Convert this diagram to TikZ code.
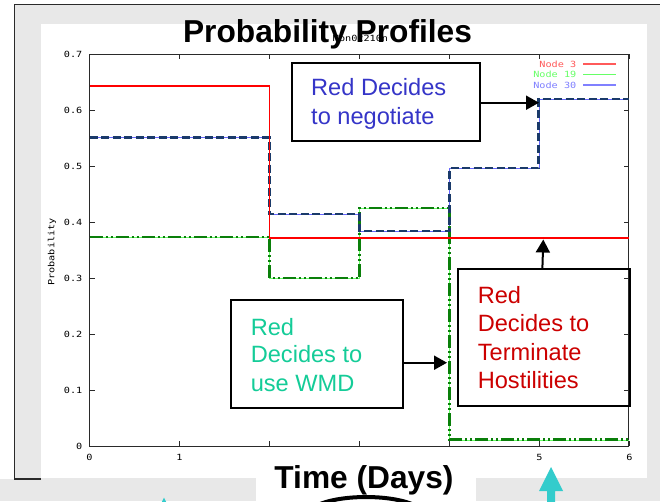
\documentclass[tikz,border=0pt]{standalone}
\usepackage{fontspec}
\setmainfont{Liberation Sans}
\newfontfamily\gpfont[FakeStretch=1.2]{DejaVu Sans Mono}
\usetikzlibrary{arrows.meta}
\definecolor{bggray}{HTML}{E8E8E8}
\definecolor{axisc}{HTML}{2A2A2A}
\definecolor{negblue}{HTML}{3535C8}
\definecolor{wmdteal}{HTML}{14CC98}
\definecolor{termred}{HTML}{CC0000}
\definecolor{lgreen}{HTML}{66FF66}
\definecolor{lblue}{HTML}{6666FF}
\definecolor{lred}{HTML}{FF5A5A}
\definecolor{legblue}{HTML}{8080FF}
\definecolor{dgreen}{HTML}{0A7F0A}
\definecolor{navy}{HTML}{1A3A6A}
\definecolor{cyanarrow}{HTML}{33CCCC}
\tikzset{
  axisline/.style={draw=axisc, line width=0.9pt},
  tickl/.style={font=\gpfont\fontsize{8.5}{9}\selectfont, text=black, inner sep=0pt},
  boxframe/.style={draw=black, line width=1.8pt, inner sep=0pt, outer sep=0pt, anchor=north west},
  annot/.style={font=\fontsize{23.6}{28}\selectfont, inner sep=0pt, anchor=base west},
  conn/.style={draw=black, line width=2pt, -{Triangle[length=13pt,width=14pt]}},
  bigtitle/.style={font=\bfseries\fontsize{31.7}{36}\selectfont, inner sep=0pt, anchor=base},
  redline/.style={draw=red, line width=1.6pt},
  thingreen/.style={draw=lgreen, line width=1pt},
  thinblue/.style={draw=lblue, line width=1pt},
  greenover/.style={draw=dgreen, line width=2.4pt, dash pattern=on 13pt off 3pt on 2pt off 3pt on 2pt off 3pt},
  navyover/.style={draw=navy, line width=2.4pt, dash pattern=on 8pt off 3.5pt},
}
\begin{document}
\begin{tikzpicture}[x=1pt,y=-1pt]
\useasboundingbox (0,0) rectangle (660,501);
\clip (0,0) rectangle (660,501);
% backgrounds
\fill[white] (0,0) rectangle (660,501);
\fill[bggray] (14,4) rectangle (660,501);
\fill[bggray] (0,479) rectangle (14,501);
\fill[white] (41,24) rectangle (647,478);
\fill[white] (256,450) rectangle (476,501);
% outer frame
\draw[draw=axisc, line width=1.6pt] (41,479) -- (14.5,479) -- (14.5,4.5) -- (660,4.5);
% plot frame and ticks
\draw[axisline] (89.5,54) rectangle (628.5,446);
\foreach \v in {0,...,7} {
  \draw[axisline] (89.5,{446-56*\v}) -- ++(5,0);
  \draw[axisline] (628.5,{446-56*\v}) -- ++(-5,0);
}
\foreach \k in {0,...,6} {
  \draw[axisline] ({89.5+90*\k},446) -- ++(0,-5);
  \draw[axisline] ({89.5+90*\k},54) -- ++(0,5);
}
\foreach \v/\lab in {0/0,1/0.1,2/0.2,3/0.3,4/0.4,5/0.5,6/0.6,7/0.7} {
  \node[tickl, anchor=east] (yl\v) at (82.5,{446-56*\v}) {\lab};
}
\foreach \k in {0,1,5,6} {
  \node[tickl] (xl\k) at ({89.5+90*\k},457) {\k};
}
\node[tickl, rotate=90] (ylabel) at (52,252) {Probability};
\node[tickl] (gptitle) at (360.5,38.5) {Mon02210n};
% data
\draw[thingreen] (89.5,237) -- (269.5,237) -- (269.5,278) -- (359.5,278) -- (359.5,208) -- (449.5,208) -- (449.5,440) -- (628.5,440);
\draw[thinblue] (89.5,137.5) -- (269.5,137.5) -- (269.5,214) -- (359.5,214) -- (359.5,231) -- (449.5,231) -- (449.5,168) -- (539.5,168) -- (539.5,99) -- (628.5,99);
\draw[greenover] (89.5,237) -- (269.5,237) -- (269.5,278) -- (359.5,278) -- (359.5,208) -- (449.5,208) -- (449.5,439.5) -- (628.5,439.5);
\draw[navyover] (89.5,137.5) -- (269.5,137.5) -- (269.5,214) -- (359.5,214) -- (359.5,231) -- (449.5,231) -- (449.5,168) -- (538.5,168) -- (538.5,99) -- (628.5,99);
\draw[redline] (89.5,86) -- (269.5,86) -- (269.5,238) -- (628.5,238);
% legend
\node[tickl, text=lred, anchor=east] (leg3) at (576.5,64) {Node 3};
\node[tickl, text=lgreen, anchor=east] (leg19) at (576.5,74.5) {Node 19};
\node[tickl, text=legblue, anchor=east] (leg30) at (576.5,85) {Node 30};
\draw[draw=lred, line width=1.2pt] (583,64) -- (616,64);
\draw[draw=lgreen, line width=1.2pt] (583,74.5) -- (616,74.5);
\draw[draw=legblue, line width=1.2pt] (583,85) -- (616,85);
% annotation boxes
\node[boxframe, minimum width=188.3pt, minimum height=78pt] (negbox) at (291.7,62.7) {};
\node[annot, text=negblue] (neg1) at (311,95.7) {Red Decides};
\node[annot, text=negblue] (neg2) at (311,124) {to negotiate};
\node[boxframe, minimum width=172.3pt, minimum height=107.7pt] (wmdbox) at (231,300) {};
\node[annot, text=wmdteal] (wmd1) at (250.6,335) {Red};
\node[annot, text=wmdteal] (wmd2) at (250.6,362.7) {Decides to};
\node[annot, text=wmdteal] (wmd3) at (250.6,391) {use WMD};
\node[boxframe, minimum width=171.7pt, minimum height=136.4pt] (termbox) at (458.3,269.3) {};
\node[annot, text=termred] (term1) at (477.6,303.3) {Red};
\node[annot, text=termred] (term2) at (477.6,331.7) {Decides to};
\node[annot, text=termred] (term3) at (477.6,360) {Terminate};
\node[annot, text=termred] (term4) at (477.6,388.3) {Hostilities};
% connectors
\coordinate (negtip) at (539,102.7);
\coordinate (wmdtip) at (447,362.7);
\coordinate (termtip) at (543.3,239.5);
\draw[conn] (negbox.east |- negtip) -- (negtip);
\draw[conn] (wmdbox.east |- wmdtip) -- (wmdtip);
\draw[conn] ([xshift=-1.8pt]termbox.north) -- (termtip);
% titles
\node[bigtitle] (title) at (327.5,42) {Probability Profiles};
\draw[line width=4pt, fill=white] (366,515) ellipse [x radius=58pt, y radius=18pt];
\node[bigtitle] (timelabel) at (364,488) {Time (Days)};
% cyan arrows
\fill[cyanarrow] (547,510) -- (547,491) -- (539,491) -- (551,467) -- (563,491) -- (555,491) -- (555,510) -- cycle;
\fill[cyanarrow] (164,497.5) -- (152,521.5) -- (176,521.5) -- cycle;
\end{tikzpicture}
\end{document}
